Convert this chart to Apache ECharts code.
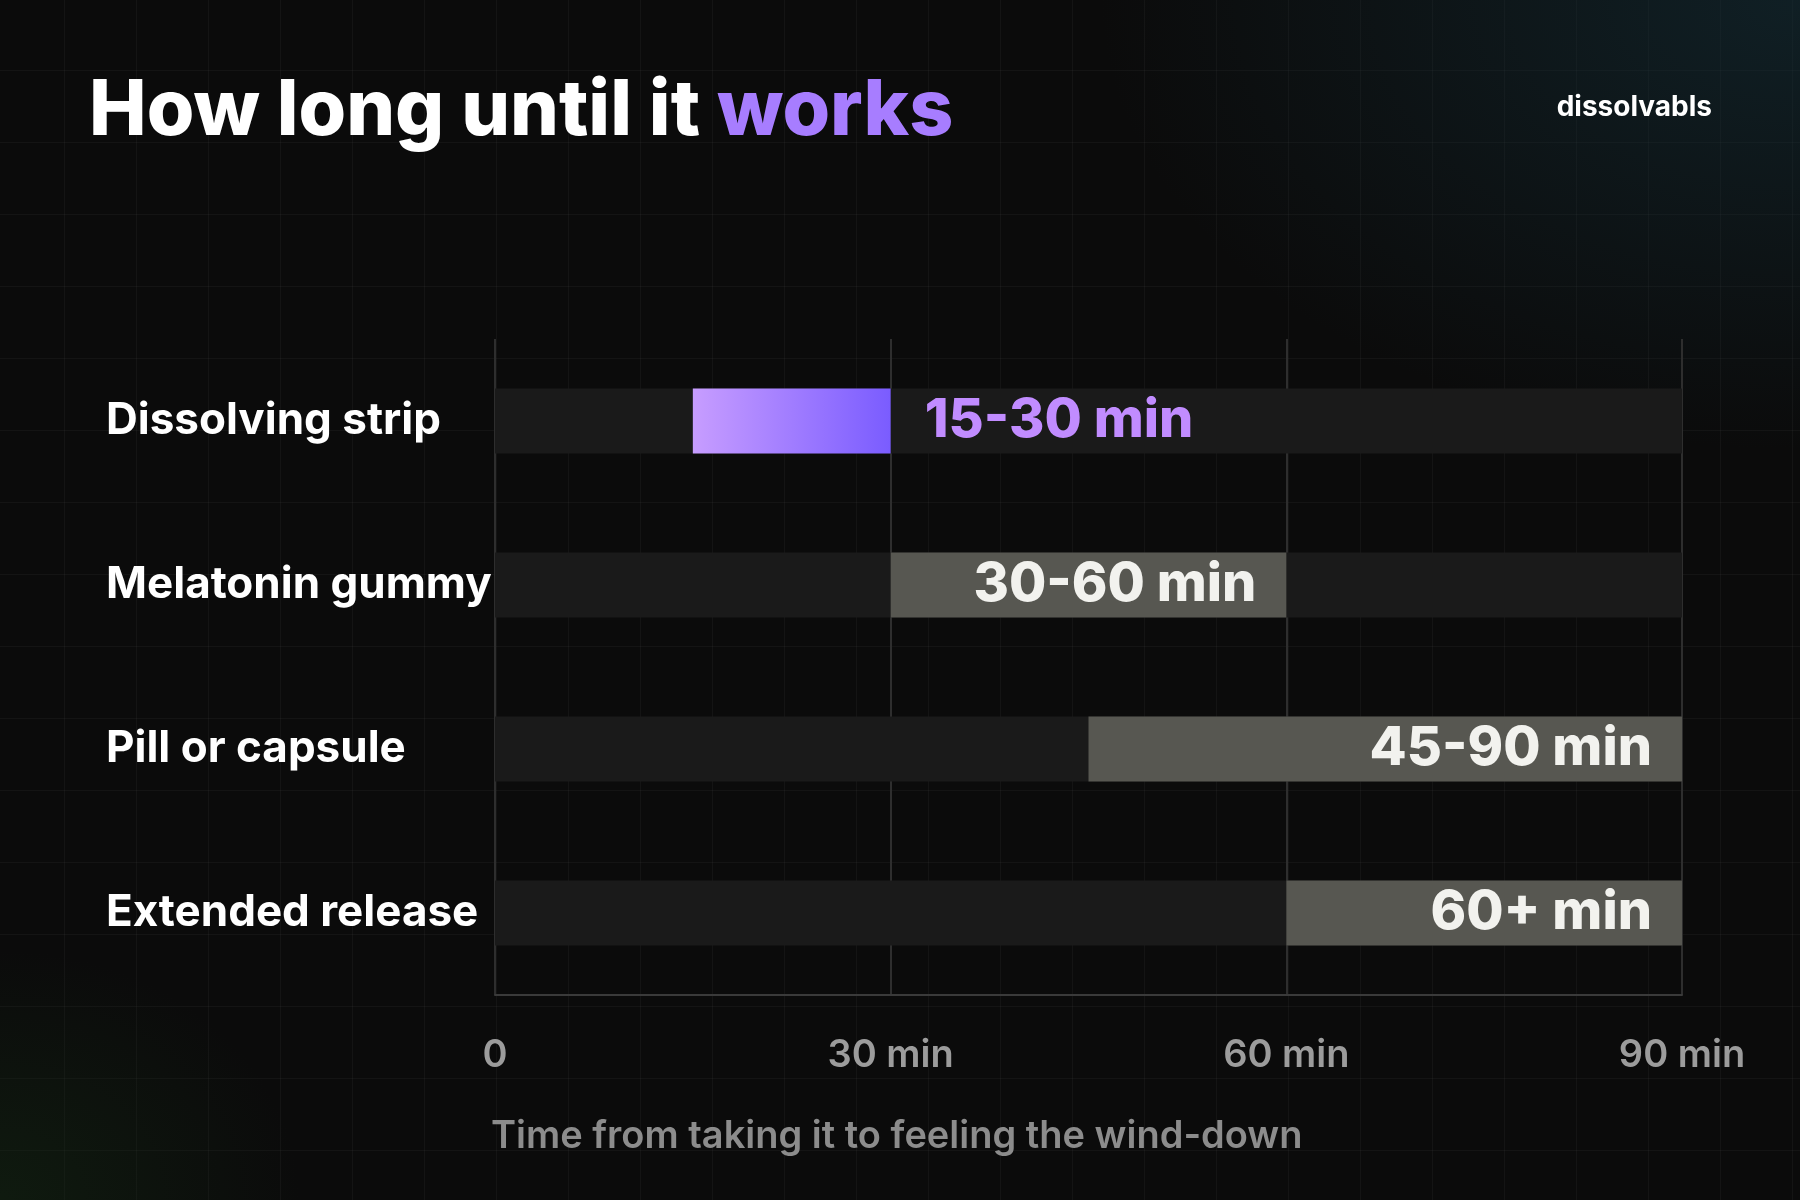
<!DOCTYPE html>
<html>
<head>
<meta charset="utf-8">
<title>How long until it works</title>
<script src="https://cdn.jsdelivr.net/npm/echarts@6/dist/echarts.min.js"></script>
<style>
    html, body { margin: 0; padding: 0; }
    body {
        width: 1800px; height: 1200px; overflow: hidden;
        background-color: #0b0b0b;
        background-image:
            radial-gradient(ellipse 700px 450px at 1800px 0px, rgba(20,48,58,0.55), rgba(0,0,0,0)),
            radial-gradient(ellipse 300px 250px at 0px 1200px, rgba(20,45,20,0.45), rgba(0,0,0,0)),
            linear-gradient(90deg, rgba(255,255,255,0.035) 1px, transparent 1px),
            linear-gradient(0deg, rgba(255,255,255,0.035) 1px, transparent 1px);
        background-size: auto, auto, 72px 72px, 72px 72px;
        background-position: 0 0, 0 0, 64px 0, 0 -1px;
    }
    #chart { width: 1800px; height: 1200px; }
</style>
</head>
<body>
<div id="chart"></div>
<script type="text/javascript">
    // 数据
    const categories = ['Dissolving strip', 'Melatonin gummy', 'Pill or capsule', 'Extended release'];
    const rangeStart = [15, 30, 45, 60];
    const rangeEnd = [30, 60, 90, 90];
    const rangeLabels = ['15-30 min', '30-60 min', '45-90 min', '60+ min'];
    const axisMax = 90;
    const tickLabels = { 0: '0', 30: '30 min', 60: '60 min', 90: '90 min' };

    const chart = echarts.init(document.getElementById('chart'));
    const option = {
        backgroundColor: 'transparent',
        textStyle: { fontFamily: 'Inter, sans-serif' },
        title: {
            text: '{a|How long until it }{b|works}',
            left: 84, top: 68,
            textStyle: {
                rich: {
                    a: { fontSize: 77, fontWeight: 800, color: '#ffffff', fontFamily: 'Inter' },
                    b: { fontSize: 77, fontWeight: 800, color: '#a77dff', fontFamily: 'Inter' }
                }
            }
        },
        graphic: [
            {
                type: 'text', right: 88, top: 94,
                style: { text: 'dissolvabls', fill: '#ffffff', font: '700 28px Inter' }
            },
            {
                type: 'text', left: 491, top: 1118,
                style: { text: 'Time from taking it to feeling the wind-down', fill: '#8c8c8c', font: '600 38px Inter' }
            }
        ],
        grid: { left: 495, right: 118, top: 339, bottom: 205 },
        xAxis: {
            type: 'value', min: 0, max: axisMax, interval: 30,
            axisLine: { show: true, lineStyle: { color: '#3a3a3a', width: 2 } },
            axisTick: { show: false },
            splitLine: { lineStyle: { color: '#2e2e2e', width: 2 } },
            axisLabel: {
                color: '#9c9c9c', fontSize: 38, fontWeight: 600, margin: 42,
                formatter: v => tickLabels[v] ?? ''
            }
        },
        yAxis: {
            type: 'category', data: categories, inverse: true,
            axisLine: { show: false }, axisTick: { show: false },
            axisLabel: {
                color: '#ffffff', fontSize: 44, fontWeight: 700, align: 'left', margin: 389
            }
        },
        series: [
            {
                type: 'bar', barWidth: 65, barGap: '-100%', silent: true,
                data: categories.map(() => axisMax),
                itemStyle: { color: '#1a1a1a' }, z: 1
            },
            {
                type: 'bar', stack: 'r', barWidth: 65, silent: true,
                data: rangeStart,
                itemStyle: { color: 'rgba(0,0,0,0)' }, z: 2
            },
            {
                type: 'bar', stack: 'r', barWidth: 65, z: 3,
                data: rangeStart.map((s, i) => ({
                    value: rangeEnd[i] - s,
                    itemStyle: i === 0 ? {
                        color: new echarts.graphic.LinearGradient(0, 0, 1, 0, [
                            { offset: 0, color: '#c79dff' },
                            { offset: 1, color: '#7a5cff' }
                        ])
                    } : { color: '#575751' },
                    label: {
                        show: true,
                        position: i === 0 ? 'right' : 'insideRight',
                        distance: i === 0 ? 34 : 30,
                        formatter: rangeLabels[i],
                        color: i === 0 ? '#c18cff' : '#f2f2ee',
                        fontSize: 54, fontWeight: 800
                    }
                }))
            }
        ]
    };
    chart.setOption(option);
</script>
</body>
</html>
